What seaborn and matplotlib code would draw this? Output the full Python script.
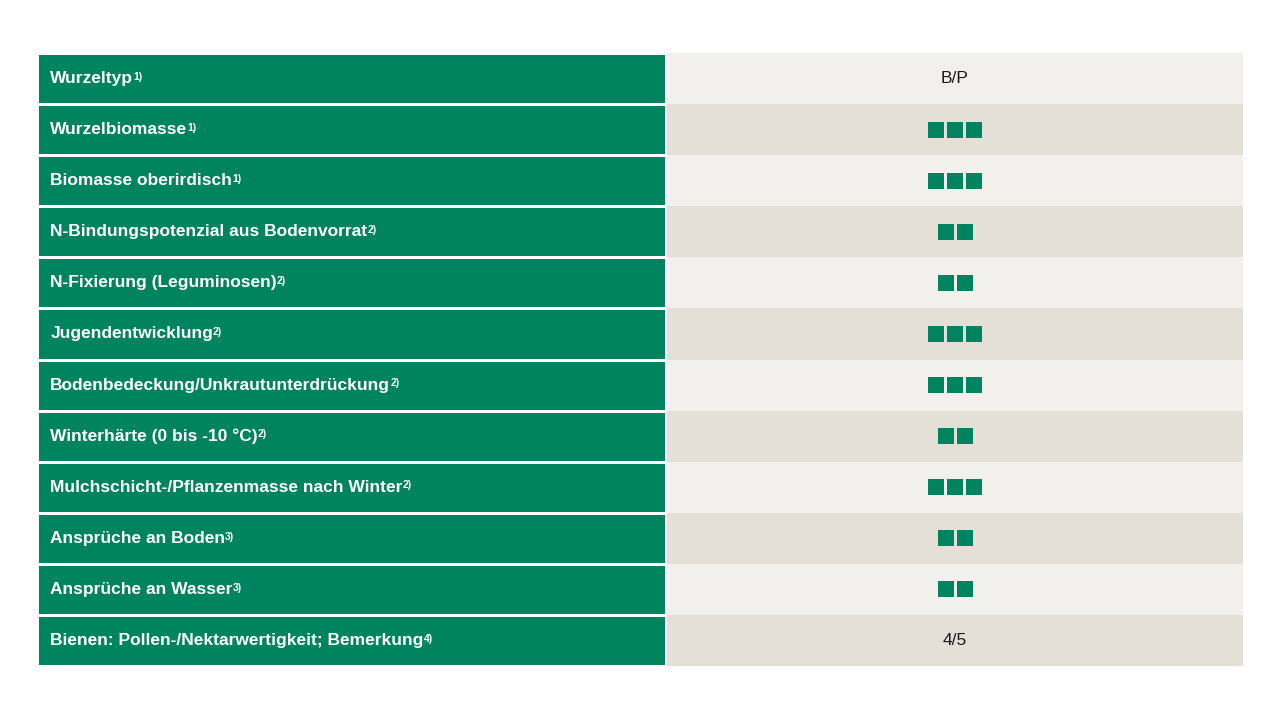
import matplotlib
matplotlib.use("Agg")
import matplotlib.pyplot as plt
from matplotlib.colors import ListedColormap
import numpy as np
import seaborn as sns

labels = [
    "Wurzeltyp", "Wurzelbiomasse", "Biomasse oberirdisch",
    "N-Bindungspotenzial aus Bodenvorrat", "N-Fixierung (Leguminosen)",
    "Jugendentwicklung", "Bodenbedeckung/Unkrautunterdrückung",
    "Winterhärte (0 bis -10 °C)", "Mulchschicht-/Pflanzenmasse nach Winter",
    "Ansprüche an Boden", "Ansprüche an Wasser",
    "Bienen: Pollen-/Nektarwertigkeit; Bemerkung",
]
footnotes = ["1)", "1)", "1)", "2)", "2)", "2)", "2)", "2)", "2)", "3)", "3)", "4)"]
scores = [0, 3, 3, 2, 2, 3, 3, 2, 3, 2, 2, 0]
texts = ["B/P", "", "", "", "", "", "", "", "", "", "", "4/5"]

GREEN = "#00835F"
LIGHT = "#F2F0EC"
DARK = "#E4DFD7"
plt.rcParams["font.family"] = "Liberation Sans"

n = len(labels)
fig = plt.figure(figsize=(12.8, 7.2), dpi=100)
W, H = 1280, 720
top, bottom = 53, 666
axl = fig.add_axes([37 / W, 1 - bottom / H, (666 - 37) / W, (bottom - top) / H])
axr = fig.add_axes([667 / W, 1 - bottom / H, (1243 - 667) / W, (bottom - top) / H])

sns.heatmap(np.zeros((n, 1)), ax=axl, cmap=ListedColormap([GREEN]), cbar=False,
            linewidths=2, linecolor="white", xticklabels=False, yticklabels=False)
stripe = np.array([[i % 2] for i in range(n)])
sns.heatmap(stripe, ax=axr, cmap=ListedColormap([LIGHT, DARK]), cbar=False,
            vmin=0, vmax=1, xticklabels=False, yticklabels=False)

for i, (lab, fn) in enumerate(zip(labels, footnotes)):
    t = axl.text(0.021, i + 0.5, lab, color="white", fontsize=12.5, fontweight="bold",
                 va="center", ha="left")
    axl.annotate(fn, xy=(1, 0.95), xycoords=t, color="white", fontsize=7.5,
                 fontweight="bold", va="top", ha="left")

step = 19 / 576
for i, (s, tx) in enumerate(zip(scores, texts)):
    if tx:
        axr.text(0.5, i + 0.5, tx, ha="center", va="center", fontsize=12.5, color="#1a1a1a")
    if s:
        xs = 0.5 + (np.arange(s) - (s - 1) / 2) * step
        axr.scatter(xs, [i + 0.5] * s, marker="s", s=118, color=GREEN, linewidths=0)

for ax in (axl, axr):
    for sp in ax.spines.values():
        sp.set_visible(False)

fig.savefig("out.png", dpi=100, facecolor="white")
